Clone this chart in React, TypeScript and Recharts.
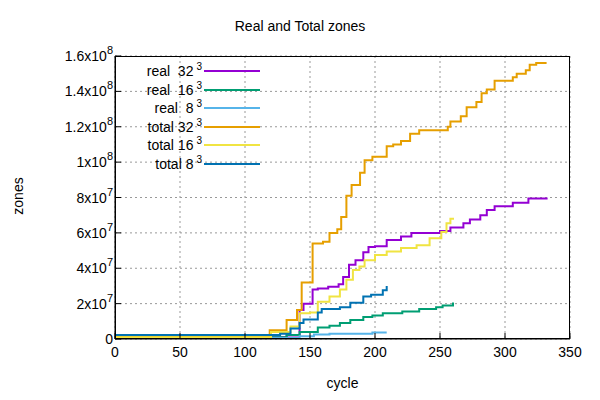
import { CartesianGrid, Line, LineChart, XAxis, YAxis } from "recharts";

const xTicks = [0, 50, 100, 150, 200, 250, 300, 350];
const yTicks = [0, 2e7, 4e7, 6e7, 8e7, 1e8, 1.2e8, 1.4e8, 1.6e8];

// [cycle, zones]
const total32: [number, number][] = [
  [0, 0.15e7], [119, 0.5e7], [132, 1.07e7], [140, 1.64e7], [143.6, 3.2e7], [152, 5.4e7],
  [160, 5.5e7], [165, 6.0e7], [171, 6.2e7], [174, 6.9e7], [178, 8.1e7], [182, 8.7e7],
  [188.5, 9.4e7], [192, 1.01e8], [198, 1.03e8], [209, 1.09e8], [214, 1.1e8], [220, 1.12e8],
  [227, 1.16e8], [234, 1.18e8], [256, 1.2e8], [258, 1.23e8], [266, 1.26e8], [270.5, 1.31e8],
  [278, 1.34e8], [282, 1.39e8], [286, 1.41e8], [292, 1.46e8], [306, 1.48e8], [309, 1.5e8],
  [316, 1.52e8], [319, 1.55e8], [324, 1.56e8], [332, 1.56e8],
];
const real32: [number, number][] = [
  [0, 0.1e7], [132, 0.2e7], [142, 1.64e7], [145, 2.0e7], [152, 2.8e7], [156, 2.85e7],
  [164, 2.95e7], [172, 3.1e7], [175.5, 3.5e7], [180, 4.2e7], [185, 4.45e7], [191, 4.9e7],
  [195, 5.2e7], [200, 5.25e7], [209, 5.6e7], [220, 5.8e7], [228, 6.0e7], [250, 6.1e7],
  [258, 6.3e7], [268, 6.55e7], [273, 6.75e7], [281, 7.0e7], [286, 7.3e7], [292, 7.5e7],
  [306, 7.7e7], [318, 7.95e7], [332, 8.0e7],
];
const total16: [number, number][] = [
  [0, 0.1e7], [120, 0.4e7], [135, 0.7e7], [142, 1.45e7], [150, 1.5e7], [156, 2.1e7],
  [165, 2.4e7], [173, 2.8e7], [178, 3.35e7], [183, 3.9e7], [188, 4.1e7], [192, 4.45e7],
  [200, 4.75e7], [209, 4.95e7], [220, 5.15e7], [232, 5.3e7], [242, 5.7e7], [251, 6.05e7],
  [255, 6.55e7], [258, 6.8e7], [260, 6.85e7],
];
const real16: [number, number][] = [
  [0, 0.1e7], [132, 0.23e7], [142, 0.4e7], [156, 0.65e7], [165, 0.75e7], [173, 0.9e7],
  [181, 1.07e7], [191, 1.25e7], [198, 1.33e7], [206, 1.45e7], [221, 1.55e7], [234, 1.7e7],
  [247, 1.8e7], [252, 1.9e7], [260, 2.07e7],
];
const total8: [number, number][] = [
  [0, 0.23e7], [127, 0.3e7], [135, 0.6e7], [142, 0.9e7], [145, 1.1e7], [156, 1.5e7],
  [159, 1.7e7], [173, 1.8e7], [181, 2.05e7], [191, 2.4e7], [197, 2.5e7], [206, 2.75e7],
  [209, 3.0e7],
];
const real8: [number, number][] = [
  [0, 0.05e7], [142, 0.15e7], [153, 0.25e7], [165, 0.3e7], [198, 0.37e7], [209, 0.37e7],
];

const series = [
  { name: "real  32", label: ["real  32", "3"], color: "#9400d3", pts: real32 },
  { name: "real  16", label: ["real  16", "3"], color: "#009e73", pts: real16 },
  { name: "real  8", label: ["real  8", "3"], color: "#56b4e9", pts: real8 },
  { name: "total 32", label: ["total 32", "3"], color: "#e69f00", pts: total32 },
  { name: "total 16", label: ["total 16", "3"], color: "#f0e442", pts: total16 },
  { name: "total 8", label: ["total 8", "3"], color: "#0072b2", pts: total8 },
];

const font = "'Liberation Sans', Arial, sans-serif";

function YTick({ x, y, payload }: any) {
  const v = payload.value as number;
  if (v === 0)
    return (
      <text x={x - 6} y={y + 5} textAnchor="end" fontSize={14} fill="#000">0</text>
    );
  const exp = Math.floor(Math.log10(v) + 1e-9);
  const mant = +(v / 10 ** exp).toFixed(1);
  return (
    <text x={x - 6} y={y + 5} textAnchor="end" fontSize={14} fill="#000">
      {mant}x10<tspan dy={-7} fontSize={11}>{exp}</tspan>
    </text>
  );
}

export default function App() {
  return (
    <div style={{ position: "relative", width: 600, height: 400, margin: -8, fontFamily: font, background: "#fff" }}>
      <div style={{ position: "absolute", top: 18, width: 600, textAlign: "center", fontSize: 14 }}>
        Real and Total zones
      </div>
      <LineChart width={600} height={400} margin={{ top: 56, right: 30, bottom: 0, left: 0 }}>
        <CartesianGrid stroke="#999" strokeDasharray="2 3" />
        <XAxis
          type="number"
          dataKey="x"
          domain={[0, 350]}
          ticks={xTicks}
          height={61}
          tick={{ fontSize: 14, fill: "#000", fontFamily: font }}
          tickSize={-6}
          tickMargin={14}
          stroke="#000"
        />
        <YAxis
          type="number"
          domain={[0, 1.6e8]}
          ticks={yTicks}
          width={115}
          tick={<YTick />}
          tickSize={-6}
          stroke="#000"
        />
        {series.map((s) => (
          <Line
            key={s.name}
            data={s.pts.map(([x, y]) => ({ x, y }))}
            dataKey="y"
            type="stepAfter"
            stroke={s.color}
            strokeWidth={2}
            dot={false}
            isAnimationActive={false}
          />
        ))}
      </LineChart>
      <div style={{ position: "absolute", left: 0, top: 375, width: 685, textAlign: "center", fontSize: 14 }}>cycle</div>
      <div style={{ position: "absolute", left: -2, top: 188, width: 40, textAlign: "center", fontSize: 14, transform: "rotate(-90deg)" }}>zones</div>
      <div style={{ position: "absolute", left: 115, top: 56, width: 455, height: 283, border: "1px solid #000", boxSizing: "border-box", pointerEvents: "none" }} />
      <div style={{ position: "absolute", left: 120, top: 60, fontSize: 14 }}>
        {series.map((s, i) => (
          <div key={s.name} style={{ position: "absolute", top: i * 18.5, left: 0, width: 140, height: 18 }}>
            <span style={{ position: "absolute", right: 58, top: 1, whiteSpace: "pre" }}>
              {s.label[0]}
              <sup style={{ fontSize: 10, marginLeft: 3 }}>{s.label[1]}</sup>
            </span>
            <span style={{ position: "absolute", left: 84, top: 10, width: 56, height: 2, background: s.color }} />
          </div>
        ))}
      </div>
    </div>
  );
}
